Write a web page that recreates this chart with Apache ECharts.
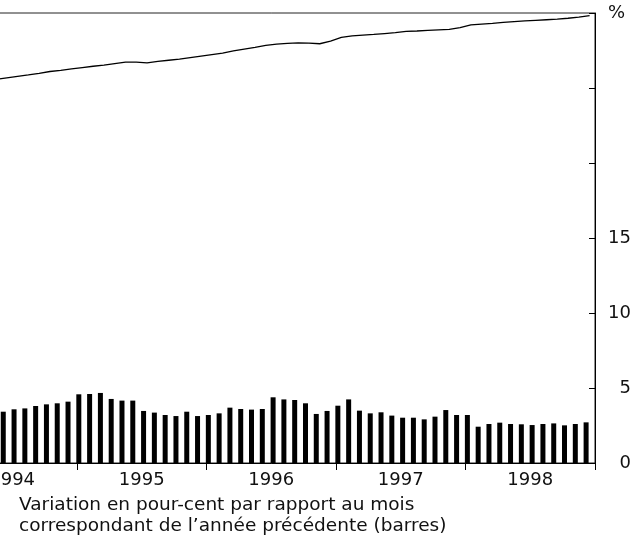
<!DOCTYPE html>
<html>
<head>
<meta charset="utf-8">
<script src="https://cdn.jsdelivr.net/npm/echarts@6/dist/echarts.min.js"></script>
<style>
html, body { margin: 0; padding: 0; background: #fff; overflow: hidden; }
/* the chart starts left of the window, like the cut-off original */
#chart { position: absolute; left: -60px; top: 0; width: 693px; height: 547px; }
</style>
</head>
<body>
<div id="chart"></div>
<script>
const years = ['1994', '1995', '1996', '1997', '1998'];
const monthNames = ['01', '02', '03', '04', '05', '06', '07', '08', '09', '10', '11', '12'];
const percentLabels = ['0', '5', '10', '15'];

// bars: variation en % sur 12 mois, juin 1994 -> déc 1998
const variation = [
  3.42, 3.58, 3.64, 3.80, 3.91, 3.98, 4.09,
  4.58, 4.60, 4.67, 4.27, 4.16, 4.16, 3.47, 3.36, 3.20, 3.13, 3.42, 3.13,
  3.20, 3.31, 3.69, 3.60, 3.56, 3.60, 4.38, 4.24, 4.20, 3.98, 3.27, 3.47,
  3.82, 4.24, 3.49, 3.31, 3.38, 3.16, 3.02, 3.02, 2.91, 3.09, 3.53, 3.20,
  3.20, 2.42, 2.60, 2.69, 2.60, 2.58, 2.53, 2.60, 2.64, 2.51, 2.60, 2.71
];

// line: niveau, mai 1994 -> déc 1998 (read on the same scale)
const level = [
  25.57, 25.67, 25.77, 25.87, 25.98, 26.10, 26.18, 26.27,
  26.36, 26.45, 26.53, 26.63, 26.72, 26.72, 26.68, 26.77, 26.85, 26.93, 27.03, 27.13,
  27.23, 27.33, 27.47, 27.59, 27.71, 27.84, 27.93, 27.97, 28.01, 27.99, 27.95, 28.13,
  28.37, 28.48, 28.53, 28.57, 28.63, 28.69, 28.77, 28.80, 28.84, 28.88, 28.91, 29.03,
  29.21, 29.26, 29.31, 29.37, 29.43, 29.47, 29.51, 29.55, 29.59, 29.65, 29.73, 29.83
];

const months = years.flatMap(y => monthNames.map(m => y + '-' + m));
const barData = Array(months.length - variation.length).fill(null).concat(variation);
const lineData = Array(months.length - level.length).fill(null).concat(level);

const font = 'DejaVu Sans';
const ink = '#111';

const chart = echarts.init(document.getElementById('chart'));
chart.setOption({
  animation: false,
  title: [
    {
      text: 'Variation en pour-cent par rapport au mois\ncorrespondant de l\u2019année précédente (barres)',
      left: 79,
      top: 495,
      padding: 0,
      textStyle: { fontFamily: font, fontSize: 18.5, lineHeight: 21, fontWeight: 'normal', color: ink }
    },
    {
      text: '%',
      left: 668,
      top: 4,
      padding: 0,
      textStyle: { fontFamily: font, fontSize: 18, fontWeight: 'normal', color: ink }
    }
  ],
  grid: {
    left: 7.4,
    right: 38,
    top: 13,
    bottom: 84,
    outerBoundsMode: 'none',
    show: true,
    borderColor: '#222',
    borderWidth: 1
  },
  xAxis: [
    {
      type: 'category',
      data: months,
      position: 'bottom',
      boundaryGap: true,
      axisLine: { onZero: false, lineStyle: { color: '#000', width: 1 } },
      axisTick: {
        show: true,
        length: 7,
        lineStyle: { color: '#000', width: 1 },
        interval: i => i % 12 === 0
      },
      axisLabel: { show: false },
      splitLine: { show: false }
    },
    {
      type: 'category',
      data: years,
      position: 'bottom',
      boundaryGap: true,
      axisLine: { show: false, onZero: false },
      axisTick: { show: false },
      axisLabel: { margin: 8, fontFamily: font, fontSize: 18, color: ink },
      splitLine: { show: false }
    }
  ],
  yAxis: {
    type: 'value',
    position: 'right',
    min: 0,
    max: 30,
    interval: 5,
    axisLine: { show: true, lineStyle: { color: '#000', width: 1 } },
    axisTick: { show: true, inside: true, length: 6, lineStyle: { color: '#000' } },
    axisLabel: {
      align: 'right',
      margin: 36,
      fontFamily: font,
      fontSize: 18,
      color: ink,
      formatter: v => (percentLabels.includes(String(v)) ? String(v) : '')
    },
    splitLine: { show: false }
  },
  series: [
    {
      name: 'variation',
      type: 'bar',
      xAxisIndex: 0,
      data: barData,
      barWidth: 5,
      barGap: '0%',
      itemStyle: { color: '#000' }
    },
    {
      // empty spacer so the bars sit at the start of each month
      name: 'spacer',
      type: 'bar',
      xAxisIndex: 0,
      data: [],
      barWidth: 7
    },
    {
      name: 'niveau',
      type: 'line',
      xAxisIndex: 0,
      data: lineData,
      symbol: 'none',
      lineStyle: { color: '#000', width: 1.3 }
    }
  ]
});
</script>
</body>
</html>
